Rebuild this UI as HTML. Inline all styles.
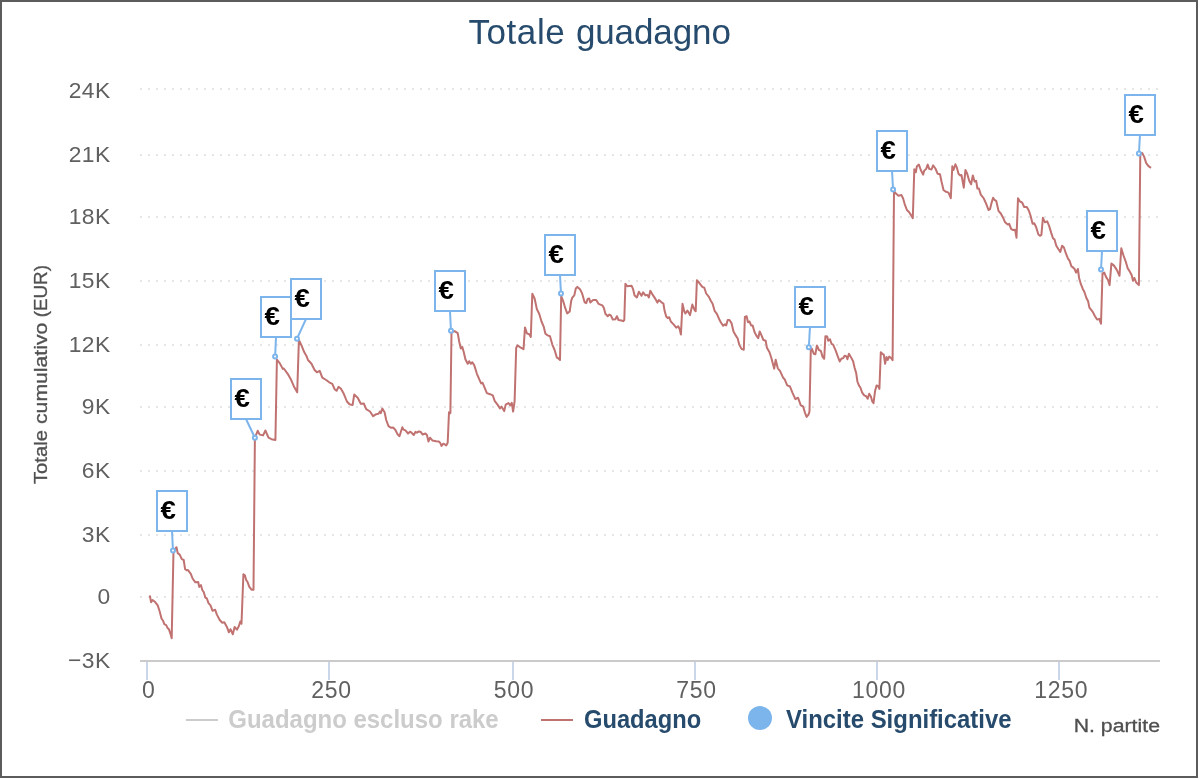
<!DOCTYPE html>
<html lang="it">
<head>
<meta charset="utf-8">
<title>Totale guadagno</title>
<style>
html,body{margin:0;padding:0;background:#fff;}
body{width:1200px;height:780px;overflow:hidden;font-family:"Liberation Sans",sans-serif;}
svg{display:block;font-family:"Liberation Sans",sans-serif;will-change:transform;}
.yl{font-size:22.8px;fill:#606060;text-anchor:end;letter-spacing:0.4px;}
.xl{font-size:23px;fill:#606060;text-anchor:middle;letter-spacing:0.7px;}
.at{font-size:18px;fill:#505050;stroke:#505050;stroke-width:0.3px;}
.lg{font-size:26px;font-weight:bold;fill:#274b6d;}
.eu{font-size:25.4px;font-weight:bold;fill:#000;}
</style>
</head>
<body>
<svg width="1200" height="780" viewBox="0 0 1200 780">
<rect x="0" y="0" width="1200" height="780" fill="#ffffff"/>
<!-- chart border -->
<rect x="1" y="1" width="1196" height="776" fill="#ffffff" stroke="#5c5c5c" stroke-width="2"/>
<text y="44" font-size="35" fill="#274b6d"><tspan x="468.5" letter-spacing="0.56">Totale </tspan><tspan x="575.9" letter-spacing="-0.1">guadagno</tspan></text>
<g stroke="#e6e6e6" stroke-width="2" stroke-dasharray="2 6" fill="none">
<path d="M140 89H1160"/>
<path d="M140 155H1160"/>
<path d="M140 217H1160"/>
<path d="M140 281H1160"/>
<path d="M140 345H1160"/>
<path d="M140 407H1160"/>
<path d="M140 471H1160"/>
<path d="M140 535H1160"/>
<path d="M140 597H1160"/>
</g>
<path d="M140 661H1160" stroke="#cacaca" stroke-width="2" fill="none"/>
<g stroke="#ccd6eb" stroke-width="2" fill="none">
<path d="M147 662V680"/>
<path d="M329 662V680"/>
<path d="M513 662V680"/>
<path d="M695 662V680"/>
<path d="M877 662V680"/>
<path d="M1059 662V680"/>
</g>
<g class="yl">
<text x="110.5" y="98">24K</text>
<text x="110.5" y="162">21K</text>
<text x="110.5" y="224">18K</text>
<text x="110.5" y="288">15K</text>
<text x="110.5" y="352">12K</text>
<text x="110.5" y="414">9K</text>
<text x="110.5" y="478">6K</text>
<text x="110.5" y="542">3K</text>
<text x="110.5" y="604">0</text>
<text x="110.5" y="668">−3K</text>
</g>
<g class="xl">
<text x="148.8" y="698">0</text>
<text x="331.4" y="698">250</text>
<text x="513.9" y="698">500</text>
<text x="696.4" y="698">750</text>
<text x="878.9" y="698">1000</text>
<text x="1061.2" y="698">1250</text>
</g>
<g class="at" transform="translate(46.8 484.1) rotate(-90)"><text x="0" y="0" textLength="54.0" lengthAdjust="spacingAndGlyphs">Totale</text><text x="60.1" y="0" textLength="101.4" lengthAdjust="spacingAndGlyphs">cumulativo</text><text x="166.8" y="0" textLength="52.3" lengthAdjust="spacingAndGlyphs">(EUR)</text></g>
<text class="at" x="1073.7" y="731.8" textLength="86.3" lengthAdjust="spacingAndGlyphs">N. partite</text>
<polyline fill="none" stroke="#c07271" stroke-width="2" stroke-linejoin="round" stroke-linecap="round" points="150,596.2 151.1,602.3 152.6,600 155.4,602.3 157.7,605.4 159.7,611.5 161.5,618.5 163.1,620.8 164.3,624.2 166.2,625.1 167.4,627.7 168.9,629.2 170.5,633.8 171.7,638.2 173.5,550.8 176.5,547.2 177.7,553.1 179.7,554.6 181.8,559.2 183.7,560 185.1,569.2 186.6,570.3 188,570 190.8,573.8 192.6,578.5 195.4,582.3 198.2,582 199.2,586.9 200.9,585.1 202.3,590 203.8,592.3 205.4,597.7 206.9,598.5 208.5,603.1 210.5,605.4 212.6,610.8 215.1,609.7 216.9,614.6 219.7,620 222.3,622.8 224.3,622.3 226.9,626.9 228.9,632.3 230.5,629.2 232.8,634.3 234.6,626.9 236.9,629.7 238.8,626.2 240.3,621.5 241.5,623.8 243.4,574.3 244.9,575.4 246.2,580 247.7,582.3 249.2,586.6 251.5,589.7 253.5,589.7 254.9,437.7 257.7,430.8 259.7,434.6 263.1,435.4 265.4,430.5 268.5,437.7 271.5,439.2 275.4,440 276.9,359.7 279.7,363.1 282.8,368.9 283.8,368.5 287.7,373.8 290.8,379.2 293.8,386.2 297.2,392.3 298.9,340 301.5,345.4 304.3,352.3 306.2,355.4 308,360 311.5,363.8 314.6,370 316.9,372.3 319.7,370.8 322.3,377.7 326.2,380 329.2,382.3 332.3,383.8 334.6,389.2 336.6,390.8 338.5,386.9 340.8,388.5 343.8,393.8 346.9,401.5 349.5,404.3 352.6,405.1 354.2,394.6 357.7,397.7 360.8,403.8 363.8,403.5 366.2,409.2 370,411.5 373.1,416.2 376.2,414.2 378.5,413.8 380,411.5 380.8,413.1 382.3,408.5 384.6,412.3 386.2,420 388.5,426.2 390.8,427.7 393.1,427.4 395.4,430 397.7,434.6 399.5,436.2 402.3,427.3 403.5,429.6 405.4,430.4 408.1,433.5 410,431.7 411.5,432.7 413.8,435 415.4,431.9 416.9,432.7 418.8,431.4 420.4,431.7 422.7,434.5 425.4,433.5 426.9,435 428.5,441.5 430,437.7 432.3,440.4 436.2,441.2 438.8,441.5 440.4,443.1 441.5,446 443.1,443.8 444.6,444.2 446.2,445.4 447.7,442.7 449,412.3 450.4,413.1 451.5,332.3 454.6,331.1 457.7,333.1 459.2,341.5 460.8,348.5 462.3,346.9 463.8,352.3 465.4,359.2 467.7,363.8 469.2,361.2 470.8,363.8 472.3,362.3 474.3,365.4 476.9,373.8 479.2,379.2 481.1,383.4 482.6,382.8 484.6,387.7 486.9,393.1 490,394.2 492.8,395.4 494.6,400.8 497.7,404.9 500,408.5 501.5,406.5 504.2,411.1 505.7,404.6 508.5,403.1 510.3,405.4 511.8,402.8 513.1,411.5 514.6,401.5 516.2,347.7 517.5,345.4 520.8,347.7 523.5,349.2 525,327.4 526.9,333.4 529.2,334.2 530.8,337 532.3,293.8 534.6,298.5 536.9,309.2 539.2,313.8 541.5,321.5 543.8,326.9 545.4,333.8 547.7,335.4 550,336.2 552.3,344.6 554.6,350 556.9,357.7 558.5,358.5 560,360 561.2,296.2 563.1,300.8 565.1,307.7 567.2,313.4 569.7,311.5 571.2,300.8 572.3,297.7 574.3,295.4 575.8,288.5 577.4,286.9 580,289.2 582,293.1 584.6,302.3 586.2,303.1 587.7,298.9 589.2,298.5 590.3,302.6 593.1,300 596.2,300 598.5,303.8 602.3,305.4 603.8,307.7 605.4,313.8 607.7,316.2 609.2,314.6 610.8,315.4 612.8,319.5 615.4,319.2 616.9,316.2 618.5,320 621.5,320.5 623.1,321.2 624.3,320 625.4,283.8 627.2,286.2 631.5,285.7 633.1,289.2 634.6,295.4 636.9,297.4 638.9,291.8 641.5,295.8 643.1,292.3 645.4,295.4 647.4,294.9 648.9,297.4 650.3,290.8 653.1,295.4 655.4,298.9 657.4,302.6 658.9,300 661.5,302.3 663.4,303.5 664.6,310.8 666.2,316.5 667.7,318.1 669.2,317.2 670.8,321.5 673.8,324.6 676.2,327.7 678.2,326.2 679.7,329.2 680.9,334.6 682.5,303.8 684.3,311.5 685.4,313.5 687.4,310.5 690,315.1 692.3,304.6 694.6,310 695.7,311.2 696.9,280.3 699.2,282.8 702.3,286.9 704.3,287.7 706.2,293.5 708.9,296.9 710.8,300.8 712.6,303.8 714.6,310.8 716.9,313.8 719.2,319.2 720.8,322.3 723.1,325.8 724.9,324.3 726.2,325.4 727.7,320 729.5,320 731.5,323.1 733.5,331.5 735.7,335.4 737.7,338.5 739.2,344.6 741.5,348.9 743.8,349.7 744.9,316.9 746.6,316.2 748,322.3 749.5,321.5 751.1,325.4 752.6,325.4 754.6,332.3 756.2,335.4 758.2,338.2 759.7,331.5 761.5,335.4 763.4,340 765.7,340.8 766.9,347.7 769.5,352.3 771.5,358.5 774.2,368.7 775.7,359.7 777.8,368.3 780,370.8 783.1,377.7 784.6,379.2 787.2,385.4 790,386.5 792.3,392.3 795.4,399.2 798,397.7 800.8,405.4 803.1,406.5 805.1,413.1 806.6,416.9 808.5,414.6 809.5,411.5 810.8,350 811.8,348.5 813.8,353.8 815.4,354.2 816.9,345.4 818.9,350 820.8,350.8 822.6,356.9 824.2,358.8 825.4,336.2 827.2,336.6 828.2,340.8 830,339.2 831.5,343.8 833.1,344.6 835.8,350.8 837.7,356.2 839.7,361.5 841.5,358.5 843.1,358.2 844.6,355.7 846.2,356.2 847.4,359.2 848.9,353.8 850.8,356.9 853.1,361.2 854.6,367.7 856.2,373.1 857.4,381.5 858.9,385.4 860.5,387.7 862,392.3 864.2,395.4 866.2,396.2 867.7,398.8 869.2,393.8 870.8,396.2 872.3,401.5 873.5,403.1 875.1,390.8 876.6,385.4 878.2,386.2 879.4,388.9 880.8,352.3 882.3,353.8 883.8,354.6 885.1,363.8 886.5,356.9 887.7,360 889.2,356.6 890.8,357.7 892.6,360.3 894,191.1 896.2,193.8 898.5,195.7 901.5,195.1 903.1,198.5 904.6,203.8 906.9,210 909.2,212.3 911.2,215.4 912.8,218.2 914.3,169.2 915.8,172.3 916.9,166.2 918.9,164.6 920.8,170 923.1,174.6 924.2,170.8 926.2,168.9 927.7,164.6 929.2,168.9 931.5,169.5 933.1,165.4 935.4,168.5 937.7,173.8 940,174.2 941.5,181.5 943.5,190 945.4,191.5 948.5,192.6 950.8,198.2 952.3,166.2 953.5,170 955.4,164.3 956.9,167.7 958.5,173.8 960,175.4 961.5,175.1 963.8,187.7 965.4,170 967.2,173.8 969.2,180.8 971.1,184.3 972.8,175.4 974.6,181.5 976.2,180.8 977.4,188.5 978.9,188.5 980.8,194.6 983.8,198.5 986.2,203.8 988.5,210 990,209.2 991.5,203.1 993.1,197.7 994.6,200 996.2,200.8 998.5,210.8 1000.8,213.5 1003.1,217.7 1005.1,222.3 1007.7,224.6 1009.2,223.8 1011.2,229.2 1013.1,230 1015.1,229.7 1016.5,237.7 1018,198.3 1020,201.6 1022.1,202.5 1024.2,207 1026.8,207 1028.8,210.5 1030.5,215.5 1032.6,223.8 1034.2,223.2 1036,226.8 1038.4,234.5 1040,235.8 1041.4,234.9 1042.9,217.8 1045,222.3 1047.2,221.4 1049.1,225.9 1051.3,233.1 1053.1,238.5 1054.5,239.4 1056.3,245.7 1058.5,249.2 1060.3,251.9 1062.1,245.7 1063.9,247.5 1066,253.7 1067.8,258.2 1069.6,260.9 1071.4,266.3 1072.8,267.2 1074.6,269 1076.1,272.6 1077.9,269 1079.1,278 1080.9,284.2 1082.7,288.7 1084.5,292.3 1086.3,297.7 1088.1,301.3 1089.4,307.6 1091.2,309.9 1092.9,312.1 1094.7,315.7 1097.1,319.6 1099.2,318.9 1101,323.7 1102.5,273.5 1104.3,272.6 1106.1,277.1 1107.9,279.8 1109.6,285.1 1111.4,263.6 1113.8,265.4 1116.8,269.9 1119.5,275.8 1121.3,248.3 1123.5,255.5 1125.8,261.8 1127.6,268.1 1129.9,271.7 1131.7,275.3 1133,280.7 1134.4,278 1136.2,282.5 1138.9,285.1 1140.3,153.1 1142.3,153.1 1144.2,156.9 1146.2,163.1 1148.5,166.2 1150.3,167.4"/>
<g stroke="#7cb5ec" stroke-width="2" fill="#ffffff">
<circle cx="173" cy="550.5" r="2"/><path d="M172 531L172.9 548.9" fill="none"/><rect x="157" y="491" width="30" height="40"/>
<circle cx="254.9" cy="437.7" r="2"/><path d="M246 419L254.2 436.3" fill="none"/><rect x="231" y="379" width="30" height="40"/>
<circle cx="275.1" cy="356.6" r="2"/><path d="M276 337L275.2 355.0" fill="none"/><rect x="261" y="297" width="30" height="40"/>
<circle cx="297" cy="338.7" r="2"/><path d="M306 319L297.7 337.2" fill="none"/><rect x="291" y="279" width="30" height="40"/>
<circle cx="451" cy="330.8" r="2"/><path d="M450 311L450.9 329.2" fill="none"/><rect x="435" y="271" width="30" height="40"/>
<circle cx="561" cy="293.6" r="2"/><path d="M560 275L560.9 292.0" fill="none"/><rect x="545" y="235" width="30" height="40"/>
<circle cx="808.8" cy="347.3" r="2"/><path d="M810 327L808.9 345.7" fill="none"/><rect x="795" y="287" width="30" height="40"/>
<circle cx="893.1" cy="189.5" r="2"/><path d="M892 171L893.0 187.9" fill="none"/><rect x="877" y="131" width="30" height="40"/>
<circle cx="1101" cy="269.5" r="2"/><path d="M1102 251L1101.1 267.9" fill="none"/><rect x="1087" y="211" width="30" height="40"/>
<circle cx="1138.9" cy="153.4" r="2"/><path d="M1140 135L1139.0 151.8" fill="none"/><rect x="1125" y="95" width="30" height="40"/>
</g>
<g class="eu">
<text x="160.6" y="519" textLength="15.4" lengthAdjust="spacingAndGlyphs">€</text>
<text x="234.6" y="407" textLength="15.4" lengthAdjust="spacingAndGlyphs">€</text>
<text x="264.6" y="325" textLength="15.4" lengthAdjust="spacingAndGlyphs">€</text>
<text x="294.6" y="307" textLength="15.4" lengthAdjust="spacingAndGlyphs">€</text>
<text x="438.6" y="299" textLength="15.4" lengthAdjust="spacingAndGlyphs">€</text>
<text x="548.6" y="263" textLength="15.4" lengthAdjust="spacingAndGlyphs">€</text>
<text x="798.6" y="315" textLength="15.4" lengthAdjust="spacingAndGlyphs">€</text>
<text x="880.6" y="159" textLength="15.4" lengthAdjust="spacingAndGlyphs">€</text>
<text x="1090.6" y="239" textLength="15.4" lengthAdjust="spacingAndGlyphs">€</text>
<text x="1128.6" y="123" textLength="15.4" lengthAdjust="spacingAndGlyphs">€</text>
</g>
<path d="M186 720H218" stroke="#cccccc" stroke-width="2" fill="none"/>
<text class="lg" x="228.3" y="728.3" textLength="270.4" lengthAdjust="spacingAndGlyphs" style="fill:#cccccc">Guadagno escluso rake</text>
<path d="M541 720H573" stroke="#c07271" stroke-width="2" fill="none"/>
<text class="lg" x="584" y="728.3" textLength="117.2" lengthAdjust="spacingAndGlyphs">Guadagno</text>
<circle cx="760" cy="718" r="12" fill="#7cb5ec"/>
<text class="lg" x="786" y="728.3" textLength="225.6" lengthAdjust="spacingAndGlyphs">Vincite Significative</text>
</svg>
</body>
</html>
